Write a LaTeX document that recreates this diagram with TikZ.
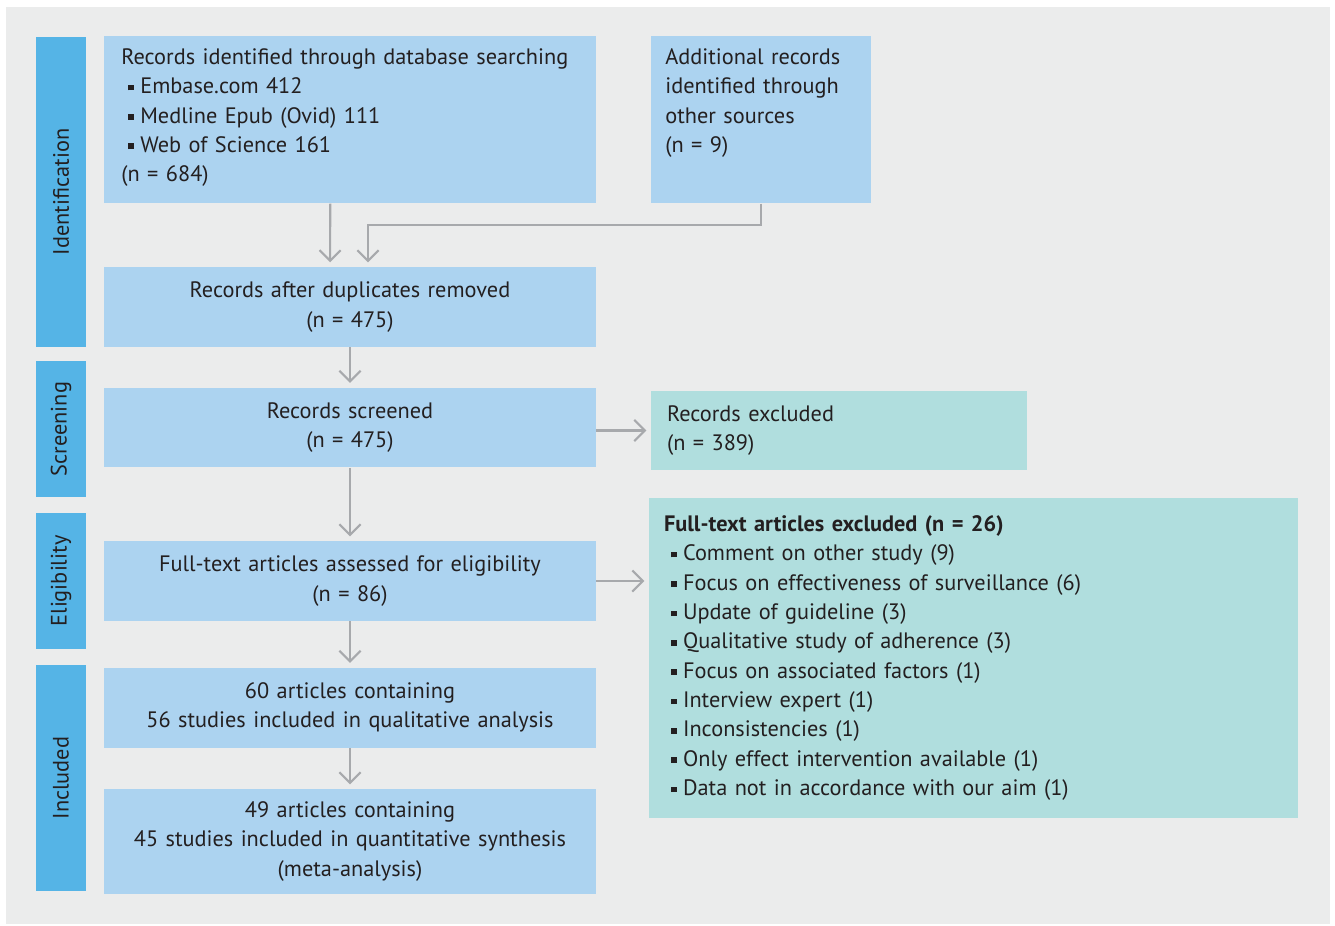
\documentclass[tikz,border=0pt]{standalone}
\usepackage{fontspec}
\setmainfont{PT Sans}
\usetikzlibrary{arrows.meta, positioning, calc}
\definecolor{pagegray}{HTML}{EBECEC}
\definecolor{phaseblue}{HTML}{55B4E6}
\definecolor{boxblue}{HTML}{ACD3F0}
\definecolor{boxteal}{HTML}{B0DEDE}
\definecolor{arrowgray}{HTML}{A7A9AC}
\definecolor{darktext}{HTML}{231F20}
\newcommand{\sqbul}{\hspace*{4pt}\rule[1.9pt]{3.2pt}{3.2pt}\hspace{3.6pt}}

\begin{document}
\begin{tikzpicture}[x=0.02cm, y=-0.02cm,
  font=\fontsize{12.7}{16.7}\selectfont, text=darktext,
  phase/.style={fill=phaseblue, rotate=90, minimum width=#1, minimum height=1cm, inner sep=0},
  blk/.style={fill=boxblue, inner sep=0, text width=9.84cm, minimum height=1.6cm, align=center},
  topblk/.style={fill=boxblue, anchor=north west, inner xsep=#1, inner ysep=0, align=left, text height=0.56cm, text depth=2.78cm},
  exbox/.style={fill=boxteal, inner sep=0, align=left},
  arr/.style={draw=arrowgray, line width=1.2pt, -{Straight Barb[length=6pt, width=12pt]}, shorten >=2.5pt}]
  \fill[white] (0,0) rectangle (1335,926);
  \useasboundingbox (0,0) rectangle (1335,926);
  \fill[pagegray] (6,7) rectangle (1330,924);
  % phases down the left side
  \foreach \y/\h/\lbl/\nm in {192/6.2cm/Identification/ident, 429/2.72cm/Screening/screen, 581/2.72cm/Eligibility/elig, 778/4.52cm/Included/incl} {
    \node[phase=\h] (\nm) at (61,\y) {\lbl};
  }
  % flow boxes
  \node[topblk=0.34cm, text width=9.16cm] (dbsearch) at (104,36) {Records identified through database searching\\
    \sqbul Embase.com 412\\ \sqbul Medline Epub (Ovid) 111\\ \sqbul Web of Science 161\\ (n = 684)};
  \node[topblk=0.28cm, text width=3.84cm] (othersrc) at (651,36) {Additional records\\ identified through\\ other sources\\ (n = 9)};
  \node[blk] (dedup) at (350,307) {Records after duplicates removed\\ (n = 475)};
  \node[blk] (screened) at (350,427.5) {Records screened\\ (n = 475)};
  \node[blk] (fulltext) at (350,581) {Full-text articles assessed for eligibility\\ (n = 86)};
  \node[blk] (qualit) at (350,707.5) {60 articles containing\\ 56 studies included in qualitative analysis};
  \node[blk, minimum height=2.1cm] (quant) at (350,841.5) {49 articles containing\\ 45 studies included in quantitative synthesis\\ (meta-analysis)};
  % exclusions
  \node[exbox, text width=6.88cm, inner xsep=0.32cm, minimum height=1.58cm] (screenexcl) at (839,430.5) {Records excluded\\ (n = 389)};
  \node[exbox, text width=12.38cm, inner xsep=0.3cm, minimum height=6.4cm] (fullexcl) at (973.5,658) {\textbf{Full-text articles excluded (n = 26)}\\
    \sqbul Comment on other study (9)\\ \sqbul Focus on effectiveness of surveillance (6)\\ \sqbul Update of guideline (3)\\
    \sqbul Qualitative study of adherence (3)\\ \sqbul Focus on associated factors (1)\\ \sqbul Interview expert (1)\\
    \sqbul Inconsistencies (1)\\ \sqbul Only effect intervention available (1)\\ \sqbul Data not in accordance with our aim (1)};
  % arrows
  \draw[arr] ($(dbsearch.south)+(-20,0)$) -- ($(dedup.north)+(-20,0)$);
  \draw[arr] (othersrc.south) |- ($(dedup.north)+(18,-42)$) -- ($(dedup.north)+(18,0)$);
  \foreach \a/\b in {dedup/screened, screened/fulltext, fulltext/qualit, qualit/quant} {
    \draw[arr] (\a.south) -- (\b.north);
  }
  \draw[arr] (screenexcl.west -| screened.east) -- (screenexcl.west);
  \draw[arr] (fulltext.east) -- (fulltext.east -| fullexcl.west);
\end{tikzpicture}
\end{document}
